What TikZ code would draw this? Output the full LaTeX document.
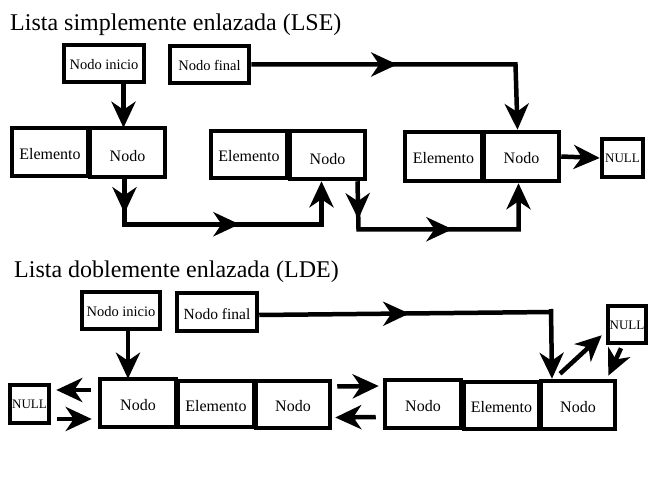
\documentclass[tikz,border=0pt]{standalone}
\usepackage{fontspec}
\setmainfont{Liberation Serif}
\usetikzlibrary{arrows.meta,decorations.markings}

\tikzset{
  box/.style={draw, line width=4.5, inner sep=0, text height=15, font=\fontsize{16}{18}\selectfont},
  lowtext/.style={text height=19},
  smalltext/.style={text height=12, font=\fontsize{14.5}{16}\selectfont},
  nulltext/.style={text height=10, font=\fontsize{13}{15}\selectfont},
  title/.style={anchor=base west, inner sep=0, font=\fontsize{24}{28}\selectfont},
  ptr/.style={line width=4.5, -{Stealth[length=26pt,width=24pt,inset=8pt]}},
  midtip/.style={postaction={decorate, decoration={markings,
    mark=at position #1 with {\arrow{Stealth[length=26pt,width=24pt,inset=8pt]}}}}},
}

\begin{document}
\begin{tikzpicture}[x=1pt,y=-1pt]
  \useasboundingbox (0,0) rectangle (648,500);

  % lista simplemente enlazada
  \node[title] (tlse) at (10,31) {Lista simplemente enlazada (LSE)};
  \node[box, smalltext, minimum width=80, minimum height=37] (ini1) at (104,63.5) {Nodo inicio};
  \node[box, smalltext, minimum width=79, minimum height=37] (fin1) at (209.5,64.5) {Nodo final};
  \node[box, minimum width=76, minimum height=48] (el1) at (50,152) {Elemento};
  \node[box, lowtext, minimum width=75, minimum height=49] (nd1) at (127.5,152.5) {Nodo};
  \node[box, minimum width=76, minimum height=47] (el2) at (249,154.5) {Elemento};
  \node[box, lowtext, minimum width=75, minimum height=48] (nd2) at (327.5,155) {Nodo};
  \node[box, minimum width=77, minimum height=49] (el3) at (443.5,156.5) {Elemento};
  \node[box, minimum width=75, minimum height=49] (nd3) at (521.5,156.5) {Nodo};
  \node[box, nulltext, minimum width=41, minimum height=38] (nul1) at (622.5,158) {NULL};

  \draw[ptr] (ini1.south -| nd1) ++(-4,0) coordinate (c0) -- ([yshift=-2]c0 |- nd1.north);
  \draw[ptr, midtip=146pt] (fin1.east) -- ([xshift=-6]nd3.north |- fin1.east) -- ([xshift=-4]nd3.north);
  \draw[ptr, midtip=34pt, midtip=160pt] ([xshift=-3]nd1.south) -- ++(0,45) -| ([xshift=-6]nd2.south);
  \draw[ptr, midtip=38pt, midtip=142pt] ([xshift=30]nd2.south) -- ++(1,48) -| ([xshift=-3]nd3.south);
  \draw[ptr] (nd3.east) -- (nul1.west);

  % lista doblemente enlazada
  \node[title] (tlde) at (14,277) {Lista doblemente enlazada (LDE)};
  \node[box, smalltext, minimum width=78, minimum height=37] (ini2) at (121,310.5) {Nodo inicio};
  \node[box, font=\fontsize{15.5}{17}\selectfont, minimum width=80, minimum height=38] (fin2) at (217,312) {Nodo final};
  \node[box, nulltext, minimum width=39, minimum height=38] (nulL) at (29.5,404) {NULL};
  \node[box, minimum width=76, minimum height=48] (a1) at (138,403) {Nodo};
  \node[box, minimum width=76, minimum height=46] (a2) at (216,404) {Elemento};
  \node[box, minimum width=74, minimum height=47] (a3) at (293,404.5) {Nodo};
  \node[box, minimum width=76, minimum height=48] (b1) at (423,404) {Nodo};
  \node[box, minimum width=75, minimum height=47] (b2) at (501.5,405.5) {Elemento};
  \node[box, minimum width=74, minimum height=48] (b3) at (578,405) {Nodo};
  \node[box, nulltext, minimum width=38, minimum height=37] (nulR) at (627,324.5) {NULL};

  \draw[ptr] ([xshift=7]ini2.south) -- ([xshift=7,yshift=-2]ini2.south |- a1.north);
  \draw[ptr, midtip=150pt] ([yshift=-3]fin2.east) -- ([xshift=-27]b3.north |- fin2.east) ++(0,-3)
    -- ([xshift=-26]b3.north);
  \draw[ptr] ([shift={(-7,-13)}]a1.west) -- ([shift={(5,-14)}]nulL.east);
  \draw[ptr] ([shift={(6,15)}]nulL.east) -- ([shift={(-6,16)}]a1.west);
  \draw[ptr] ([shift={(5,-18)}]a3.east) -- ([shift={(-4,-18)}]b1.west);
  \draw[ptr] ([shift={(-7,13)}]b1.west) -- ([shift={(3,13)}]a3.east);
  \draw[ptr] ([shift={(-18,-5)}]b3.north) -- ([shift={(-4,-10)}]nulR.south west);
  \draw[ptr] ([shift={(-6,3)}]nulR.south) -- ([shift={(-9,-3)}]b3.north east);
\end{tikzpicture}
\end{document}
